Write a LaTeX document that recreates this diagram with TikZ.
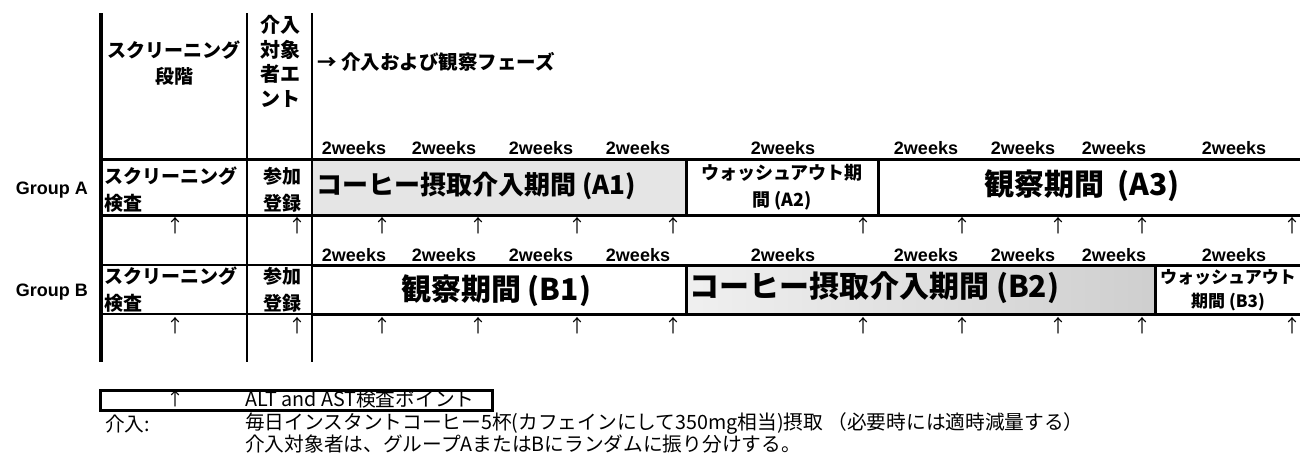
\documentclass[tikz,border=0pt]{standalone}
\usepackage{fontspec}
\setmainfont{Liberation Sans}
\newfontfamily\jp{Noto Sans CJK JP}
\begin{document}
\begin{tikzpicture}[x=1pt,y=-1pt,
  hdr/.style={font=\jp\bfseries\fontsize{19}{26}\selectfont, inner sep=0pt},
  ent/.style={font=\jp\bfseries\fontsize{20}{24.5}\selectfont, inner sep=0pt, align=center},
  cell/.style={font=\jp\bfseries\fontsize{19}{27}\selectfont, inner sep=0pt},
  bigA/.style={font=\jp\bfseries\fontsize{26}{26}\selectfont, inner sep=0pt},
  bigB/.style={font=\jp\bfseries\fontsize{30}{30}\selectfont, inner sep=0pt},
  wash/.style={font=\jp\bfseries\fontsize{18}{27}\selectfont, inner sep=0pt, align=center},
  wk/.style={font=\bfseries\fontsize{18}{18}\selectfont, inner sep=0pt},
  grp/.style={font=\bfseries\fontsize{18}{18}\selectfont, inner sep=0pt, anchor=east},
  up/.style={font=\jp\fontsize{18}{18}\selectfont, inner sep=0pt},
  leg/.style={font=\jp\fontsize{19.7}{19.7}\selectfont, inner sep=0pt, anchor=west},
  heavy/.style={line width=3pt},
]
\useasboundingbox (0,0) rectangle (1300,458);

% shaded periods
\fill[gray!20] (312,159) rectangle (686,215);
\shade[left color=gray!12, right color=gray!38] (686,265) rectangle (1155,314);

% vertical column lines
\draw[line width=3.5pt] (101,13) -- (101,362);
\draw[line width=2pt] (247,13) -- (247,362);
\draw[line width=2.5pt] (312,13) -- (312,362);

% horizontal lines
\draw[heavy] (101,159) -- (1300,159);
\draw[heavy] (101,215) -- (1300,215);
\draw[line width=1.5pt] (101,265) -- (312,265);
\draw[heavy] (312,265) -- (1300,265);
\draw[line width=2pt] (101,314) -- (312,314);
\draw[heavy] (312,314) -- (1300,314);

% period separators
\draw[heavy] (686,159) -- (686,215);
\draw[heavy] (878,159) -- (878,215);
\draw[heavy] (686,265) -- (686,314);
\draw[heavy] (1155,265) -- (1155,314);

% header
\node[hdr, align=center] (scr) at (174,63.5) {スクリーニング\\段階};
\node[ent] (entry) at (280,61.5) {介入\\対象\\者エ\\ント};
\node[hdr, anchor=west, font=\jp\bfseries\fontsize{19.5}{26}\selectfont] (phase) at (317,62) {→ 介入および観察フェーズ};

% 2weeks labels
\foreach \x [count=\i] in {354,444,541,638,783,926,1023,1114,1234} {
  \node[wk] (wa\i) at (\x,148) {2weeks};
  \node[wk] (wb\i) at (\x,255) {2weeks};
}

% group labels
\node[grp] (ga) at (88,190) {Group A};
\node[grp] (gb) at (88,292) {Group B};

% left cells
\node[cell, align=left, anchor=west] (sa) at (104,190) {スクリーニング\\検査};
\node[cell, align=right, anchor=east] (ra) at (302,190) {参加\\登録};
\node[cell, align=left, anchor=west] (sb) at (104,289.5) {スクリーニング\\検査};
\node[cell, align=right, anchor=east] (rb) at (302,289.5) {参加\\登録};

% period texts
\node[bigA, anchor=west] (a1) at (316,186) {コーヒー摂取介入期間 (A1)};
\node[wash] (a2) at (782,187) {ウォッシュアウト期\\間 (A2)};
\node[bigB] (a3) at (1082,186) {観察期間\hspace{6pt} (A3)};
\node[bigB] (b1) at (496,291) {観察期間 (B1)};
\node[bigB, anchor=west] (b2) at (689,288) {コーヒー摂取介入期間 (B2)};
\node[wash, font=\jp\bfseries\fontsize{17}{24}\selectfont] (b3) at (1228,290) {ウォッシュアウト\\期間 (B3)};

% test-point arrows
\foreach \x [count=\i] in {175,297,382,478,577,673,863,962,1058,1142,1292} {
  \node[up] (ua\i) at (\x,226) {↑};
  \node[up] (ub\i) at (\x,326) {↑};
}

% legend
\node[draw, line width=3pt, minimum width=392pt, minimum height=20pt, inner sep=0pt, anchor=north west] (legbox) at (99,389) {};
\node[up] (legarrow) at (175,399) {↑};
\node[leg] (legtext) at (245,399) {ALT and AST検査ポイント};
\node[leg] (kainyu) at (105,424) {介入:};
\node[leg] (line1) at (245,424) {毎日インスタントコーヒー5杯(カフェインにして350mg相当)摂取 （必要時には適時減量する）};
\node[leg] (line2) at (245,444) {介入対象者は、グループAまたはBにランダムに振り分けする。};
\end{tikzpicture}
\end{document}
